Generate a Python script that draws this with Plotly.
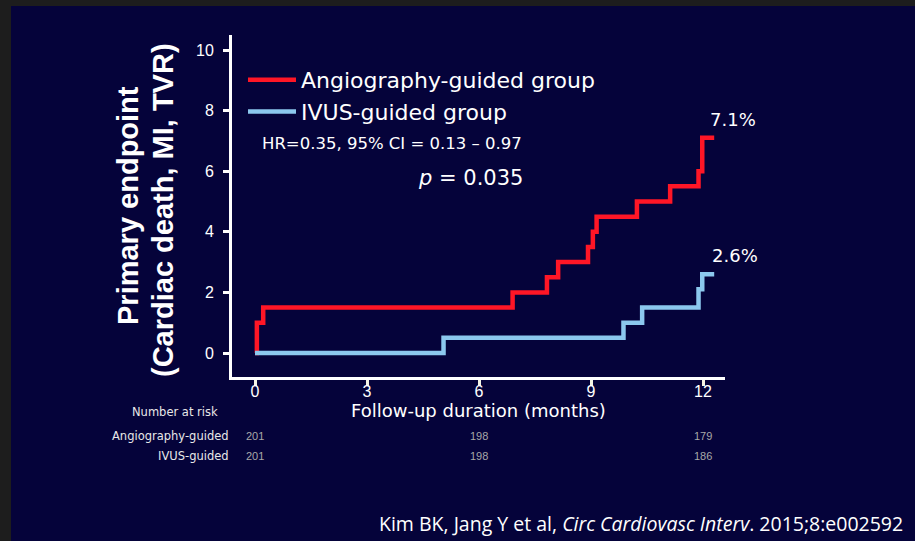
import plotly.graph_objects as go

# ---------------- data ----------------
angio_t = [0, 0.05, 0.22, 6.9, 7.82, 8.12, 8.92, 9.05, 9.15, 10.23, 11.12, 11.88, 11.98, 12.3]
angio_v = [0, 1.0, 1.5, 2.0, 2.5, 3.0, 3.5, 4.0, 4.5, 5.0, 5.5, 6.0, 7.1, 7.1]
ivus_t = [0, 5.05, 9.87, 10.37, 11.88, 11.98, 12.3]
ivus_v = [0, 0.5, 1.0, 1.5, 2.1, 2.6, 2.6]

x_ticks = [0, 3, 6, 9, 12]
y_ticks = [0, 2, 4, 6, 8, 10]

risk_times = [0, 6, 12]
risk_angio = [201, 198, 179]
risk_ivus = [201, 198, 186]

series_names = ["Angiography-guided group", "IVUS-guided group"]
risk_labels = ["Angiography-guided", "IVUS-guided"]

# ---------------- style ----------------
W, H = 915, 541
NAVY = "#05033a"
BORDER = "#1d1d1d"
RED = "#ff1626"
BLUE = "#8cc8ee"
FONT = "DejaVu Sans"


def px(x):
    return x / W


def py(y):
    return 1 - y / H


fig = go.Figure()
fig.add_trace(go.Scatter(x=angio_t, y=angio_v, mode="lines", line=dict(color=RED, width=4.5, shape="hv"),
                         name=series_names[0]))
fig.add_trace(go.Scatter(x=ivus_t, y=ivus_v, mode="lines", line=dict(color=BLUE, width=4.5, shape="hv"),
                         name=series_names[1]))

# slide background
fig.add_shape(type="rect", xref="paper", yref="paper", x0=px(11), x1=1.0, y0=0, y1=py(6),
              fillcolor=NAVY, line=dict(width=0), layer="below")

ann = []
# end labels
ann.append(dict(x=angio_t[-2] + 0.15, y=angio_v[-1], xref="x", yref="y", text=f"{angio_v[-1]}%",
                showarrow=False, xanchor="left", yanchor="bottom", yshift=6,
                font=dict(family=FONT, size=18, color="white")))
ann.append(dict(x=ivus_t[-2] + 0.2, y=ivus_v[-1], xref="x", yref="y", text=f"{ivus_v[-1]}%",
                showarrow=False, xanchor="left", yanchor="bottom", yshift=6,
                font=dict(family=FONT, size=18, color="white")))
# stats
ann.append(dict(x=px(260), y=py(143), xref="paper", yref="paper", text="HR=0.35, 95% CI = 0.13 – 0.97",
                showarrow=False, xanchor="left", yanchor="middle",
                font=dict(family=FONT, size=16.5, color="white")))
ann.append(dict(x=px(470), y=py(178), xref="paper", yref="paper", text="<i>p</i> = 0.035",
                showarrow=False, xanchor="center", yanchor="middle",
                font=dict(family=FONT, size=21, color="white")))
# axis titles
ann.append(dict(x=px(128), y=py(206), xref="paper", yref="paper", text="Primary endpoint",
                showarrow=False, textangle=-90, xanchor="center", yanchor="middle",
                font=dict(family="Liberation Sans", size=29, color="white", weight="bold")))
ann.append(dict(x=px(163), y=py(210), xref="paper", yref="paper", text="(Cardiac death, MI, TVR)",
                showarrow=False, textangle=-90, xanchor="center", yanchor="middle",
                font=dict(family="Liberation Sans", size=29, color="white", weight="bold")))
ann.append(dict(x=px(478), y=py(410), xref="paper", yref="paper", text="Follow-up duration (months)",
                showarrow=False, xanchor="center", yanchor="middle",
                font=dict(family=FONT, size=18, color="white")))
# risk table
ann.append(dict(x=px(175), y=py(412), xref="paper", yref="paper", text="Number at risk",
                showarrow=False, xanchor="center", yanchor="middle",
                font=dict(family=FONT, size=11.5, color="#e8e8e8")))
for i, (lab, vals, yy) in enumerate(zip(risk_labels, [risk_angio, risk_ivus], [436, 456])):
    ann.append(dict(x=px(231), y=py(yy), xref="paper", yref="paper", text=lab,
                    showarrow=False, xanchor="right", yanchor="middle",
                    font=dict(family=FONT, size=11.5, color="#e8e8e8")))
    for t, v in zip(risk_times, vals):
        ann.append(dict(x=t, y=py(yy), xref="x", yref="paper", text=str(v),
                        showarrow=False, xanchor="center", yanchor="middle",
                        font=dict(family="Liberation Sans", size=11, color="#a8a8a8")))
# citation
ann.append(dict(x=px(905), y=py(523), xref="paper", yref="paper",
                text="Kim BK, Jang Y et al, <i>Circ Cardiovasc Interv</i>. 2015;8:e002592",
                showarrow=False, xanchor="right", yanchor="middle",
                font=dict(family="Open Sans", size=19.5, color="white")))

# axis geometry
x0px, x12px = 255, 703
ppm = (x12px - x0px) / 12
y0px, y10px = 353, 50
ppu = (y0px - y10px) / 10

fig.update_layout(
    width=W, height=H,
    margin=dict(l=0, r=0, t=0, b=0),
    paper_bgcolor=BORDER,
    plot_bgcolor=NAVY,
    annotations=ann,
    showlegend=True,
    legend=dict(x=px(243), y=py(59), xanchor="left", yanchor="top", bgcolor="rgba(0,0,0,0)",
                itemwidth=48,
                font=dict(family=FONT, size=22, color="white"), tracegroupgap=0),
    xaxis=dict(domain=[px(232), px(725)],
               range=[(232 - x0px) / ppm, (725 - x0px) / ppm],
               tickvals=x_ticks, ticks="outside", ticklen=6, tickwidth=3, tickcolor="#f4f4e4",
               showline=True, linecolor="white", linewidth=3, showgrid=False, zeroline=False,
               ticklabelstandoff=-8,
               tickfont=dict(family="Liberation Sans", size=16, color="white")),
    yaxis=dict(domain=[py(377), py(35)],
               range=[(y0px - 377) / ppu, (y0px - 35) / ppu],
               tickvals=y_ticks, ticks="outside", ticklen=6, tickwidth=2.5, tickcolor="white",
               showline=True, linecolor="white", linewidth=3, showgrid=False, zeroline=False,
               ticklabelstandoff=6,
               tickfont=dict(family="Liberation Sans", size=16, color="white")),
)

fig.write_html("out.html", config={"displayModeBar": False},
               post_script="document.body.style.margin='0';document.body.style.overflow='hidden';")
